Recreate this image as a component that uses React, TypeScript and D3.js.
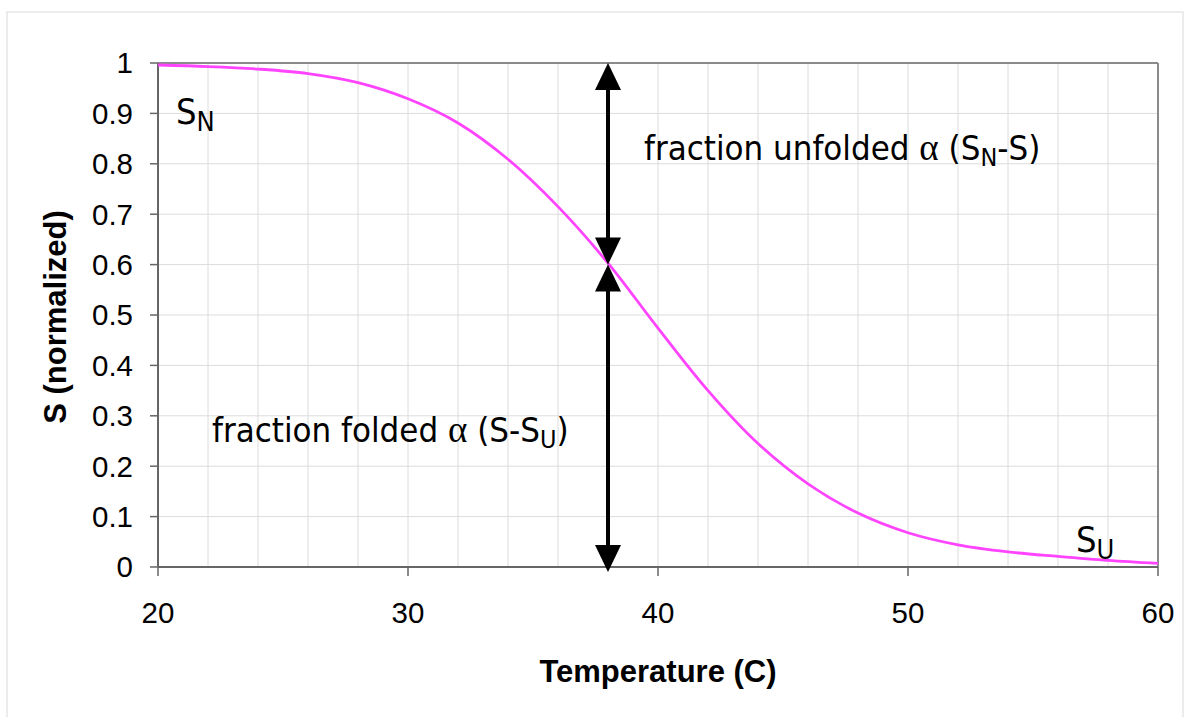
import React from "react";
import * as d3 from "d3";

const WIDTH = 1190;
const HEIGHT = 717;

// temperature (C) and normalized signal
const temperatures = [20, 22, 24, 26, 28, 30, 32, 34, 36, 38, 40, 42, 44, 46, 48, 50, 52, 54, 56, 58, 60];
const signal = [0.996, 0.993, 0.988, 0.979, 0.961, 0.929, 0.881, 0.809, 0.715, 0.603, 0.474, 0.35, 0.245, 0.165, 0.107, 0.068, 0.044, 0.03, 0.021, 0.013, 0.007];

const xTicks = [20, 30, 40, 50, 60];
const xGrid = d3.range(20, 61, 2);
const yTicks = d3.range(0, 11).map((d) => d / 10);

// arrows marking the transition temperature
const arrowT = 38;
const unfoldedSpan = [0.6, 1];
const foldedSpan = [-0.01, 0.6];

const SANS = "'Liberation Sans', Arial, sans-serif";
const NOTE = "'DejaVu Sans Condensed', 'DejaVu Sans', sans-serif";
const SERIF = "'Liberation Serif', 'DejaVu Serif', serif";

const x = d3.scaleLinear().domain([20, 60]).range([158, 1158]);
const y = d3.scaleLinear().domain([0, 1]).range([567, 63]);

const HEAD_W = 13;
const HEAD_H = 27;

function Arrow({ from, to }: { from: number; to: number }) {
  const px = x(arrowT);
  const yTop = y(to);
  const yBot = y(from);
  return (
    <g>
      <line x1={px} x2={px} y1={yTop + HEAD_H - 2} y2={yBot - HEAD_H + 2} stroke="#000" strokeWidth={4} />
      <path d={`M${px},${yTop} L${px - HEAD_W},${yTop + HEAD_H} L${px + HEAD_W},${yTop + HEAD_H} Z`} fill="#000" />
      <path d={`M${px},${yBot} L${px - HEAD_W},${yBot - HEAD_H} L${px + HEAD_W},${yBot - HEAD_H} Z`} fill="#000" />
    </g>
  );
}

export default function App() {
  const line = d3
    .line<number>()
    .x((_, i) => x(temperatures[i]))
    .y((d) => y(d))
    .curve(d3.curveCatmullRom.alpha(0.5));

  const fmt = (d: number) => (d === 0 || d === 1 ? String(d) : d3.format(".1f")(d));

  return (
    <svg
      width={WIDTH}
      height={HEIGHT}
      style={{ position: "absolute", left: 0, top: 0, background: "#fff" }}
    >
      <rect x={7} y={12} width={1176} height={720} fill="#fff" stroke="#e6e6e6" strokeWidth={1.5} />

      {/* grid */}
      {xGrid.map((t) => (
        <line key={`gx${t}`} x1={x(t)} x2={x(t)} y1={y(1)} y2={y(0)} stroke="#dcdcdc" strokeWidth={1} />
      ))}
      {yTicks.map((v) => (
        <line key={`gy${v}`} x1={x(20)} x2={x(60)} y1={y(v)} y2={y(v)} stroke="#dcdcdc" strokeWidth={1} />
      ))}

      {/* frame */}
      <line x1={x(20)} x2={x(60)} y1={y(1)} y2={y(1)} stroke="#8a8a8a" strokeWidth={2} />
      <line x1={x(60)} x2={x(60)} y1={y(1)} y2={y(0)} stroke="#8a8a8a" strokeWidth={2} />
      <line x1={x(20)} x2={x(60)} y1={y(0)} y2={y(0)} stroke="#666" strokeWidth={2} />
      <line x1={x(20)} x2={x(20)} y1={y(1)} y2={y(0)} stroke="#666" strokeWidth={2} />

      {/* y axis */}
      {yTicks.map((v) => (
        <g key={`yt${v}`}>
          <line x1={x(20) - 8} x2={x(20)} y1={y(v)} y2={y(v)} stroke="#666" strokeWidth={1.5} />
          <text x={133} y={y(v)} dy="0.35em" textAnchor="end" fontFamily={SANS} fontSize={29.5} fill="#000">
            {fmt(v)}
          </text>
        </g>
      ))}

      {/* x axis */}
      {xTicks.map((t) => (
        <g key={`xt${t}`}>
          <line x1={x(t)} x2={x(t)} y1={y(0)} y2={y(0) + 9} stroke="#666" strokeWidth={1.5} />
          <text x={x(t)} y={623} textAnchor="middle" fontFamily={SANS} fontSize={29.5} fill="#000">
            {t}
          </text>
        </g>
      ))}

      <text x={658} y={682} textAnchor="middle" fontFamily={SANS} fontWeight="bold" fontSize={31} fill="#000">
        Temperature (C)
      </text>
      <text
        transform={`translate(66, 317) rotate(-90)`}
        textAnchor="middle"
        fontFamily={SANS}
        fontWeight="bold"
        fontSize={31}
        fill="#000"
      >
        S (normalized)
      </text>

      {/* curve */}
      <path d={line(signal) || ""} fill="none" stroke="#ff44ff" strokeWidth={2.8} />

      {/* arrows */}
      <Arrow from={unfoldedSpan[0]} to={unfoldedSpan[1]} />
      <Arrow from={foldedSpan[0]} to={foldedSpan[1]} />

      {/* annotations */}
      <text x={176} y={124} fontFamily={NOTE} fontSize={36} fill="#000">
        S<tspan fontSize={27} dy={7}>N</tspan>
      </text>
      <text x={1076} y={552} fontFamily={NOTE} fontSize={36} fill="#000">
        S<tspan fontSize={27} dy={7}>U</tspan>
      </text>
      <text x={644} y={160} fontFamily={NOTE} fontSize={34.5} fill="#000">
        fraction unfolded <tspan fontFamily={SERIF} fontSize={37}>α</tspan> (S
        <tspan fontSize={25} dy={6}>N</tspan>
        <tspan dy={-6}>-S)</tspan>
      </text>
      <text x={212} y={442} fontFamily={NOTE} fontSize={34.5} fill="#000">
        fraction folded <tspan fontFamily={SERIF} fontSize={37}>α</tspan> (S-S
        <tspan fontSize={25} dy={6}>U</tspan>
        <tspan dy={-6}>)</tspan>
      </text>
    </svg>
  );
}
